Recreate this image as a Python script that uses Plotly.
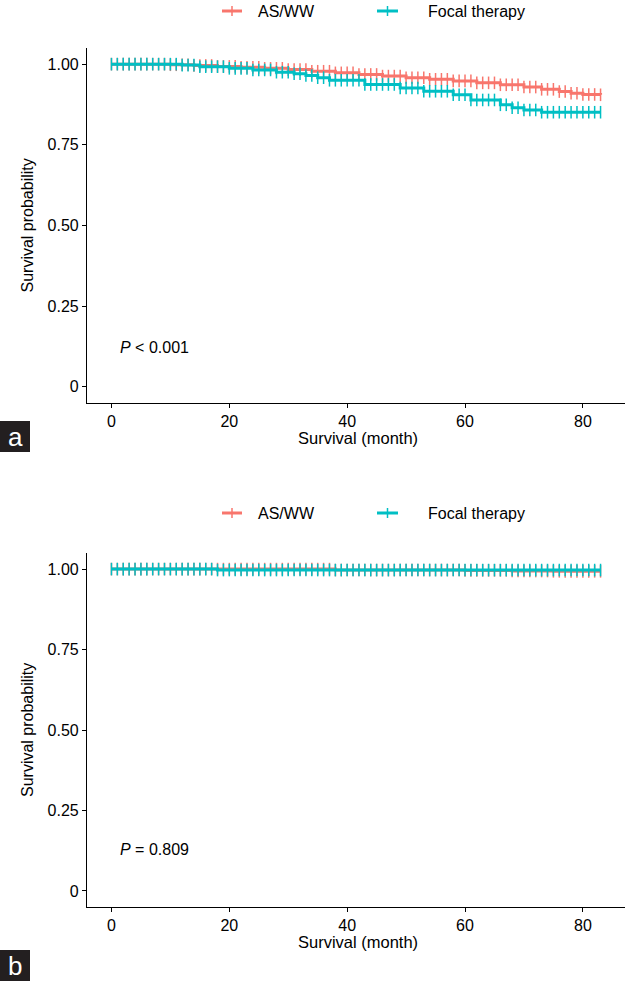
import plotly.graph_objects as go

# ---------------- DATA ----------------
# Panel a: Kaplan-Meier step values (month, survival)
a_asww_t = [0, 10, 14, 18, 22, 26, 30, 34, 38, 42, 46, 50, 54, 58, 62, 66, 70, 73, 76, 78, 80, 83]
a_asww_s = [1.000, 0.998, 0.996, 0.993, 0.990, 0.987, 0.983, 0.978, 0.973, 0.968, 0.963, 0.958,
            0.953, 0.948, 0.942, 0.936, 0.929, 0.922, 0.915, 0.910, 0.906, 0.905]
a_focal_t = [0, 12, 15, 20, 24, 28, 31, 33, 35, 37, 43, 49, 53, 58, 61, 66, 68, 70, 73, 83]
a_focal_s = [1.000, 0.997, 0.992, 0.987, 0.982, 0.975, 0.970, 0.965, 0.958, 0.950, 0.937, 0.926,
             0.916, 0.905, 0.889, 0.874, 0.865, 0.858, 0.851, 0.851]

# Panel b
b_asww_t = [0, 38, 60, 68, 75, 83]
b_asww_s = [1.000, 0.997, 0.996, 0.994, 0.993, 0.993]
b_focal_t = [0, 18, 83]
b_focal_s = [1.000, 0.997, 0.997]

# censoring times (months)
censor_t = [0, 1, 2, 3, 4, 5, 6, 7, 8, 9, 10, 11, 12, 13, 14, 15, 16, 17, 18, 19, 20,
            21, 22, 23, 24, 25, 26, 27, 28, 29, 30, 31, 32, 33, 34, 35, 36, 37, 38, 39, 40,
            41, 42, 43, 44, 45, 46, 47, 48, 49, 50, 51, 52, 53, 54, 55, 56, 57, 58, 59, 60,
            61, 62, 63, 64, 65, 66, 67, 68, 69, 70, 71, 72, 73, 74, 75, 76, 77, 78, 79, 80,
            81, 82, 83]

groups = ["AS/WW", "Focal therapy"]
colors = ["#F8766D", "#00BFC4"]
x_ticks = [0, 20, 40, 60, 80]
y_ticks = [0, 0.25, 0.5, 0.75, 1.0]
y_ticklabels = ["0", "0.25", "0.50", "0.75", "1.00"]
p_texts = ["<i>P</i> < 0.001", "<i>P</i> = 0.809"]
panel_labels = ["a", "b"]

# ---------------- GEOMETRY ----------------
W, H = 627, 981
FONT = "Liberation Sans, Arial, sans-serif"


def py(p):  # page pixel y (from top) -> paper y
    return 1 - p / H


def px(p):
    return p / W


def step_value(ts, ss, t):
    v = ss[0]
    for ti, si in zip(ts, ss):
        if ti <= t:
            v = si
    return v


fig = go.Figure()

panels = [
    dict(xa="x", ya="y", curves=[(a_asww_t, a_asww_s), (a_focal_t, a_focal_s)],
         ydom=(py(403), py(48)), ypix=(48, 403), legend_y=11, p_y=347, xlab_y=438, box=(421, 452)),
    dict(xa="x2", ya="y2", curves=[(b_asww_t, b_asww_s), (b_focal_t, b_focal_s)],
         ydom=(py(907), py(553)), ypix=(553, 907), legend_y=513, p_y=849, xlab_y=942, box=(950, 981)),
]

annotations = []
shapes = []
for k, pn in enumerate(panels):
    for g, (ts, ss) in enumerate(pn["curves"]):
        fig.add_trace(go.Scatter(
            x=ts, y=ss, mode="lines", line=dict(color=colors[g], width=3, shape="hv"),
            xaxis=pn["xa"], yaxis=pn["ya"], showlegend=False, hoverinfo="skip"))
        cy = [step_value(ts, ss, t) for t in censor_t]
        fig.add_trace(go.Scatter(
            x=censor_t, y=cy, mode="markers",
            marker=dict(symbol="line-ns", size=9, line=dict(color=colors[g], width=1.5)),
            xaxis=pn["xa"], yaxis=pn["ya"], showlegend=False, hoverinfo="skip"))

    ly = pn["legend_y"]
    for g, (x0, x1, tx) in enumerate([(222, 242, 256), (377, 398, 426)]):
        shapes.append(dict(type="line", xref="paper", yref="paper", x0=px(x0), x1=px(x1),
                           y0=py(ly), y1=py(ly), line=dict(color=colors[g], width=3)))
        xm = (x0 + x1) / 2
        shapes.append(dict(type="line", xref="paper", yref="paper", x0=px(xm), x1=px(xm),
                           y0=py(ly - 5), y1=py(ly + 5), line=dict(color=colors[g], width=1.5)))
        annotations.append(dict(text=groups[g], xref="paper", yref="paper", x=px(tx), y=py(ly),
                                xanchor="left", yanchor="middle", showarrow=False,
                                font=dict(family=FONT, size=16, color="black")))
    annotations.append(dict(text=p_texts[k], xref="paper", yref="paper", x=px(118), y=py(pn["p_y"]),
                            xanchor="left", yanchor="middle", showarrow=False,
                            font=dict(family=FONT, size=16, color="black")))
    annotations.append(dict(text="Survival (month)", xref="paper", yref="paper", x=px(358),
                            y=py(pn["xlab_y"]), xanchor="center", yanchor="middle", showarrow=False,
                            font=dict(family=FONT, size=16.5, color="black")))
    ymid = sum(pn["ypix"]) / 2
    annotations.append(dict(text="Survival probability", xref="paper", yref="paper", x=px(27),
                            y=py(ymid), xanchor="center", yanchor="middle", textangle=-90,
                            showarrow=False, font=dict(family=FONT, size=16, color="black")))
    b0, b1 = pn["box"]
    shapes.append(dict(type="rect", xref="paper", yref="paper", x0=px(0), x1=px(30),
                       y0=py(b1), y1=py(b0), fillcolor="#231F20", line=dict(width=0)))
    annotations.append(dict(text=panel_labels[k], xref="paper", yref="paper", x=px(15),
                            y=py((b0 + b1) / 2), xanchor="center", yanchor="middle", showarrow=False,
                            font=dict(family=FONT, size=26, color="white")))

axis_common = dict(showline=True, linecolor="black", linewidth=1.2, ticks="outside",
                   ticklen=4, tickwidth=1.2, tickcolor="black", showgrid=False, zeroline=False,
                   tickfont=dict(family=FONT, size=16, color="black"))

fig.update_layout(
    width=W, height=H, margin=dict(l=0, r=0, t=0, b=0),
    paper_bgcolor="white", plot_bgcolor="white",
    xaxis=dict(domain=[px(87), px(625)], range=[-4.15, 87.15], tickvals=x_ticks,
               anchor="y", **axis_common),
    yaxis=dict(domain=list(panels[0]["ydom"]), range=[-0.05, 1.05], tickvals=y_ticks,
               ticktext=y_ticklabels, anchor="x", **axis_common),
    xaxis2=dict(domain=[px(87), px(625)], range=[-4.15, 87.15], tickvals=x_ticks,
                anchor="y2", **axis_common),
    yaxis2=dict(domain=list(panels[1]["ydom"]), range=[-0.05, 1.05], tickvals=y_ticks,
                ticktext=y_ticklabels, anchor="x2", **axis_common),
    annotations=annotations, shapes=shapes, showlegend=False,
)

fig.write_html("out.html", config={"displayModeBar": False},
               post_script="document.body.style.margin='0';document.body.style.overflow='hidden';")
